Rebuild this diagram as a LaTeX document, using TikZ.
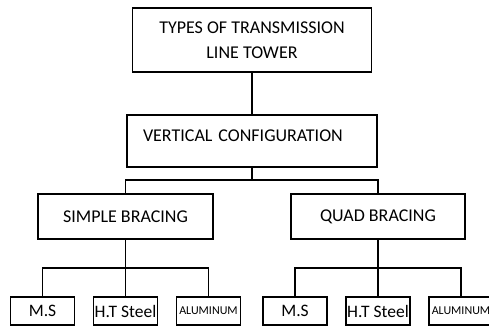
\documentclass[tikz,border=0pt]{standalone}
\usepackage{fontspec}
\setmainfont{Carlito}
\usepackage{tikz}
\usetikzlibrary{positioning}

\begin{document}
\begin{tikzpicture}[
            x=1pt,y=-1pt,
            box/.style={
                    draw,
                    line width=1.8pt,
                    inner sep=0pt,
                    outer sep=0pt,
                    align=center,
                    font=\fontsize{18}{25}\selectfont
                },
            leafbox/.style={
                    box,
                    minimum width=64pt,
                    minimum height=28pt,
                    font=\fontsize{17.5}{20}\selectfont
                },
            link/.style={
                    line width=1.4pt
                }
        ]

        \useasboundingbox (0,0) rectangle (489,328);
        \clip (0,0) rectangle (489,328);

        \node[box,minimum width=239pt,minimum height=64pt] at (252,40)
        (types)
        {TYPES OF TRANSMISSION\\LINE TOWER};


        \node[box,below=43pt of types,text width=218pt,inner xsep=16pt,
            align=left,minimum height=52pt,text depth=11.6pt]
        (vertical)
        {VERTICAL CONFIGURATION};


        \node[box,minimum width=175pt,minimum height=45pt] at (125.5,216.5)
        (simple)
        {SIMPLE BRACING};


        \node[box,minimum width=174pt,minimum height=45pt] at (378,216.5)
        (quad)
        {QUAD BRACING};


        % simple bracing materials
        \node[leafbox,below=58pt of simple] (simpleht) {H.T Steel};
        \node[leafbox,left=19pt of simpleht] (simplems) {M.S};
        \node[leafbox,right=19pt of simpleht,font=\fontsize{12}{14}\selectfont]
        (simpleal) {ALUMINUM};


        % quad bracing materials
        \node[leafbox,below=58pt of quad] (quadht) {H.T Steel};
        \node[leafbox,left=19pt of quadht] (quadms) {M.S};
        \node[leafbox,right=19pt of quadht,font=\fontsize{12}{14}\selectfont]
        (quadal) {ALUMINUM};


        \coordinate[below=13pt of vertical] (verticalbus);
        \coordinate[below=29pt of simple] (simplebus);
        \coordinate[below=29pt of quad] (quadbus);


        \draw[link](types)--(vertical);
        \draw[link](vertical)--(verticalbus);
        \draw[link](simple.north)|-(verticalbus)-|(quad.north);

        \draw[link](simple)--(simpleht);
        \draw[link](simplems.north)|-(simplebus)-|(simpleal.north);

        \draw[link](quad)--(quadht);
        \draw[link](quadms.north)|-(quadbus)-|(quadal.north);


    \end{tikzpicture}
\end{document}
